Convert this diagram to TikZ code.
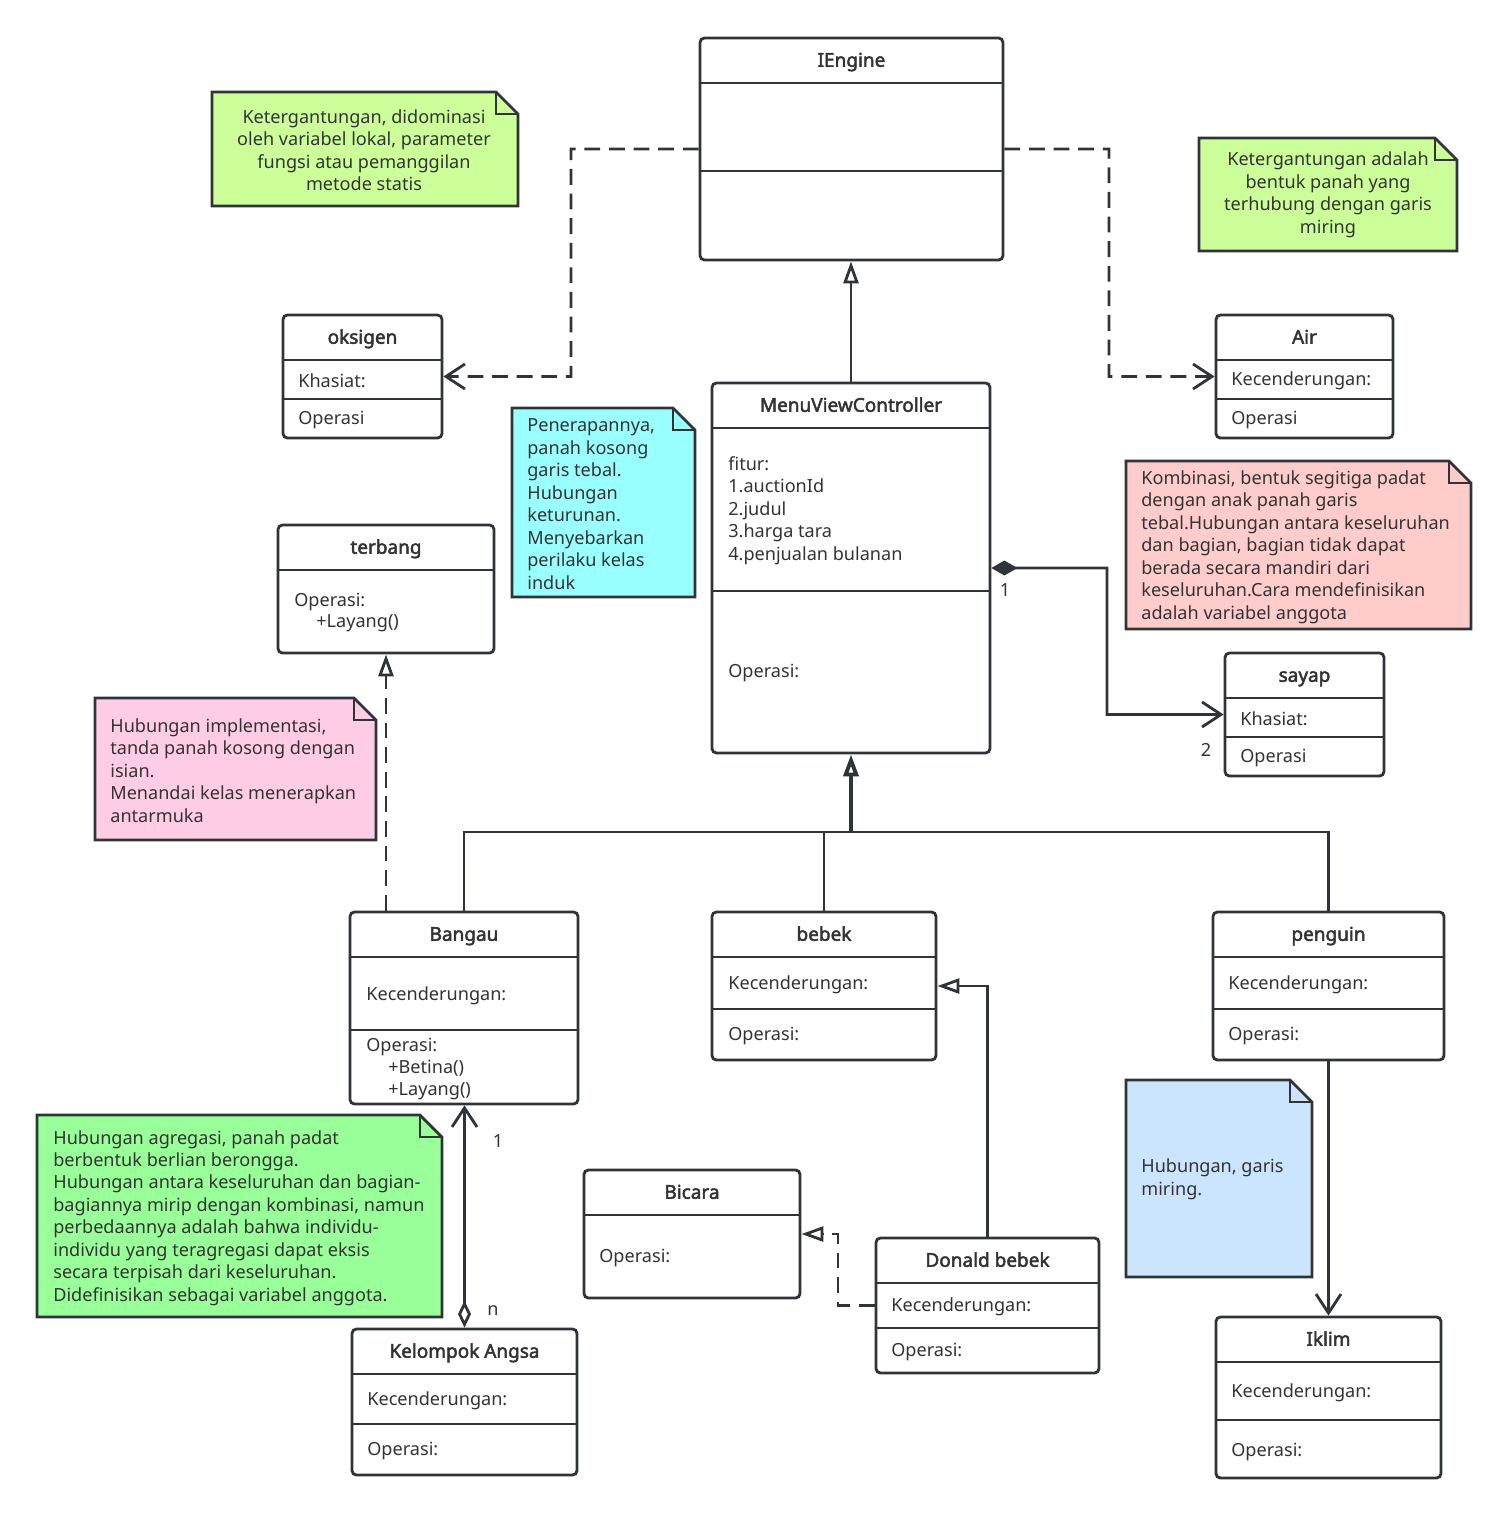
\documentclass[tikz,border=0pt]{standalone}
\usepackage{fontspec}
\setmainfont{Noto Sans}[AutoFakeBold=2.4]
\usepackage{tikz}
\usetikzlibrary{arrows.meta,fit}
\definecolor{UMLine}{HTML}{303438}
\definecolor{UMText}{HTML}{333333}
\definecolor{UMLime}{HTML}{CCFF99}
\definecolor{UMCyan}{HTML}{99FFFF}
\definecolor{UMRose}{HTML}{FFCCCC}
\definecolor{UMPink}{HTML}{FFCCE6}
\definecolor{UMGreen}{HTML}{99FF99}
\definecolor{UMSky}{HTML}{CCE5FF}
\tikzset{
  classbox/.style={draw=UMLine,line width=1.6pt,rounded corners=2.5pt,fill=white,inner sep=0pt},
  sepline/.style={draw=UMLine,line width=1.6pt},
  ctitle/.style={anchor=base,font=\fontsize{10.8}{12.8}\selectfont\bfseries,text=UMText,inner sep=0pt,yshift=-0.135cm},
  cfield/.style={anchor=west,align=left,font=\fontsize{10.3}{12.8}\selectfont,text=UMText,inner sep=0pt,yshift=-0.03cm},
  notebox/.style={draw=UMLine,line width=1.6pt,line join=miter},
  conn/.style={draw=UMLine,line width=1.6pt},
  dashconn/.style={conn,dash pattern=on 9pt off 5pt},
  openv/.style={-{Straight Barb[length=0.38cm,width=0.5cm]}},
  inherit/.style={-{Triangle[length=0.44cm,width=0.3cm,fill=white]}},
  mult/.style={font=\fontsize{10.3}{12.8}\selectfont,text=UMText,inner sep=0pt,yshift=-0.03cm}
}
\begin{document}
\begin{tikzpicture}[x=0.02cm,y=-0.02cm]
\path[use as bounding box] (0,0) rectangle (1507,1516);
\node[classbox,fit={(700,38) (1003,260)}] (iengine) {};
\draw[sepline] (iengine.west |- 0,83) -- (iengine.east |- 0,83);
\draw[sepline] (iengine.west |- 0,171) -- (iengine.east |- 0,171);
\node[ctitle] (iengine-t) at (851.5,60) {IEngine};
\node[classbox,fit={(283,315) (442,438)}] (oksigen) {};
\draw[sepline] (oksigen.west |- 0,360) -- (oksigen.east |- 0,360);
\draw[sepline] (oksigen.west |- 0,399) -- (oksigen.east |- 0,399);
\node[ctitle] (oksigen-t) at (362.5,337) {oksigen};
\node[cfield] (oksigen-a) at (298,379) {Khasiat:};
\node[cfield] (oksigen-o) at (298,418) {Operasi};
\node[classbox,fit={(1216,315) (1393,438)}] (air) {};
\draw[sepline] (air.west |- 0,360) -- (air.east |- 0,360);
\draw[sepline] (air.west |- 0,399) -- (air.east |- 0,399);
\node[ctitle] (air-t) at (1304.5,337) {Air};
\node[cfield] (air-a) at (1231,379) {Kecenderungan:};
\node[cfield] (air-o) at (1231,418) {Operasi};
\node[classbox,fit={(712,383) (990,753)}] (mvc) {};
\draw[sepline] (mvc.west |- 0,428) -- (mvc.east |- 0,428);
\draw[sepline] (mvc.west |- 0,591) -- (mvc.east |- 0,591);
\node[ctitle] (mvc-t) at (851,405) {MenuViewController};
\node[cfield] (mvc-a) at (728,509) {fitur:\\1.auctionId\\2.judul\\3.harga tara\\4.penjualan bulanan};
\node[cfield] (mvc-o) at (728,671) {Operasi:};
\node[classbox,fit={(278,525) (494,653)}] (terbang) {};
\draw[sepline] (terbang.west |- 0,570) -- (terbang.east |- 0,570);
\node[ctitle] (terbang-t) at (386,547) {terbang};
\node[cfield] (terbang-o) at (294,600) {Operasi:};
\node[cfield] (terbang-m) at (316,622) {+Layang()};
\node[classbox,fit={(1225,653) (1384,776)}] (sayap) {};
\draw[sepline] (sayap.west |- 0,698) -- (sayap.east |- 0,698);
\draw[sepline] (sayap.west |- 0,737) -- (sayap.east |- 0,737);
\node[ctitle] (sayap-t) at (1304.5,675) {sayap};
\node[cfield] (sayap-a) at (1240,717) {Khasiat:};
\node[cfield] (sayap-o) at (1240,756) {Operasi};
\node[classbox,fit={(350,912) (578,1104)}] (bangau) {};
\draw[sepline] (bangau.west |- 0,957) -- (bangau.east |- 0,957);
\draw[sepline] (bangau.west |- 0,1030) -- (bangau.east |- 0,1030);
\node[ctitle] (bangau-t) at (464,934) {Bangau};
\node[cfield] (bangau-a) at (366,994) {Kecenderungan:};
\node[cfield] (bangau-o) at (366,1045) {Operasi:};
\node[cfield] (bangau-m1) at (388,1067) {+Betina()};
\node[cfield] (bangau-m2) at (388,1090) {+Layang()};
\node[classbox,fit={(712,912) (936,1060)}] (bebek) {};
\draw[sepline] (bebek.west |- 0,957) -- (bebek.east |- 0,957);
\draw[sepline] (bebek.west |- 0,1009) -- (bebek.east |- 0,1009);
\node[ctitle] (bebek-t) at (824,934) {bebek};
\node[cfield] (bebek-a) at (728,983) {Kecenderungan:};
\node[cfield] (bebek-o) at (728,1034) {Operasi:};
\node[classbox,fit={(1213,912) (1444,1060)}] (penguin) {};
\draw[sepline] (penguin.west |- 0,957) -- (penguin.east |- 0,957);
\draw[sepline] (penguin.west |- 0,1009) -- (penguin.east |- 0,1009);
\node[ctitle] (penguin-t) at (1328.5,934) {penguin};
\node[cfield] (penguin-a) at (1228,983) {Kecenderungan:};
\node[cfield] (penguin-o) at (1228,1034) {Operasi:};
\node[classbox,fit={(584,1170) (800,1298)}] (bicara) {};
\draw[sepline] (bicara.west |- 0,1215) -- (bicara.east |- 0,1215);
\node[ctitle] (bicara-t) at (692,1192) {Bicara};
\node[cfield] (bicara-o) at (599,1256) {Operasi:};
\node[classbox,fit={(876,1238) (1099,1373)}] (donald) {};
\draw[sepline] (donald.west |- 0,1283) -- (donald.east |- 0,1283);
\draw[sepline] (donald.west |- 0,1328) -- (donald.east |- 0,1328);
\node[ctitle] (donald-t) at (987.5,1260) {Donald bebek};
\node[cfield] (donald-a) at (891,1305) {Kecenderungan:};
\node[cfield] (donald-o) at (891,1350) {Operasi:};
\node[classbox,fit={(352,1329) (577,1475)}] (angsa) {};
\draw[sepline] (angsa.west |- 0,1374) -- (angsa.east |- 0,1374);
\draw[sepline] (angsa.west |- 0,1424) -- (angsa.east |- 0,1424);
\node[ctitle] (angsa-t) at (464.5,1351) {Kelompok Angsa};
\node[cfield] (angsa-a) at (367,1399) {Kecenderungan:};
\node[cfield] (angsa-o) at (367,1449) {Operasi:};
\node[classbox,fit={(1216,1317) (1441,1478)}] (iklim) {};
\draw[sepline] (iklim.west |- 0,1362) -- (iklim.east |- 0,1362);
\draw[sepline] (iklim.west |- 0,1420) -- (iklim.east |- 0,1420);
\node[ctitle] (iklim-t) at (1328.5,1339) {Iklim};
\node[cfield] (iklim-a) at (1231,1391) {Kecenderungan:};
\node[cfield] (iklim-o) at (1231,1450) {Operasi:};
\draw[notebox,fill=UMLime] (212,92) -- (496,92) -- (518,114) -- (518,206) -- (212,206) -- cycle;
\draw[notebox] (496,92) -- (496,114) -- (518,114);
\node[cfield,anchor=center,align=center] (note-dep1) at (364,148.5) {Ketergantungan, didominasi\\oleh variabel lokal, parameter\\fungsi atau pemanggilan\\metode statis};
\draw[notebox,fill=UMLime] (1199,138) -- (1435,138) -- (1457,160) -- (1457,251) -- (1199,251) -- cycle;
\draw[notebox] (1435,138) -- (1435,160) -- (1457,160);
\node[cfield,anchor=center,align=center] (note-dep2) at (1328,193.5) {Ketergantungan adalah\\bentuk panah yang\\terhubung dengan garis\\miring};
\draw[notebox,fill=UMCyan] (512,408) -- (673,408) -- (695,430) -- (695,597) -- (512,597) -- cycle;
\draw[notebox] (673,408) -- (673,430) -- (695,430);
\node[cfield] (note-gen) at (527,502.5) {Penerapannya,\\panah kosong\\garis tebal.\\Hubungan\\keturunan.\\Menyebarkan\\perilaku kelas\\induk};
\draw[notebox,fill=UMRose] (1126,461) -- (1449,461) -- (1471,483) -- (1471,629) -- (1126,629) -- cycle;
\draw[notebox] (1449,461) -- (1449,483) -- (1471,483);
\node[cfield] (note-comp) at (1141,545.5) {Kombinasi, bentuk segitiga padat\\dengan anak panah garis\\tebal.Hubungan antara keseluruhan\\dan bagian, bagian tidak dapat\\berada secara mandiri dari\\keseluruhan.Cara mendefinisikan\\adalah variabel anggota};
\draw[notebox,fill=UMPink] (95,698) -- (354,698) -- (376,720) -- (376,840) -- (95,840) -- cycle;
\draw[notebox] (354,698) -- (354,720) -- (376,720);
\node[cfield] (note-real) at (110,769) {Hubungan implementasi,\\tanda panah kosong dengan\\isian.\\Menandai kelas menerapkan\\antarmuka};
\draw[notebox,fill=UMGreen] (37,1115) -- (420,1115) -- (442,1137) -- (442,1317) -- (37,1317) -- cycle;
\draw[notebox] (420,1115) -- (420,1137) -- (442,1137);
\node[cfield] (note-aggr) at (53,1216.5) {Hubungan agregasi, panah padat\\berbentuk berlian berongga.\\Hubungan antara keseluruhan dan bagian-\\bagiannya mirip dengan kombinasi, namun\\perbedaannya adalah bahwa individu-\\individu yang teragregasi dapat eksis\\secara terpisah dari keseluruhan.\\Didefinisikan sebagai variabel anggota.};
\draw[notebox,fill=UMSky] (1126,1080) -- (1290,1080) -- (1312,1102) -- (1312,1277) -- (1126,1277) -- cycle;
\draw[notebox] (1290,1080) -- (1290,1102) -- (1312,1102);
\node[cfield] (note-assoc) at (1141,1178) {Hubungan, garis\\miring.};
\coordinate (depl) at (571,376.5);
\coordinate (depr) at (1109,376.5);
\draw[dashconn,openv] (iengine.west) -| (depl) -- (oksigen.east);
\draw[dashconn,openv] (iengine.east) -| (depr) -- (air.west);
\draw[conn,inherit] (mvc.north) -- (mvc.north |- iengine.south);
\coordinate (compm) at (1107,714.5);
\draw[conn,{Diamond[length=0.52cm,width=0.3cm]}-{Straight Barb[length=0.38cm,width=0.5cm]}] (mvc.east) -| (compm) -- (sayap.west);
\node[mult] (comp-1) at (1005,589) {1};
\node[mult] (comp-2) at (1206,748) {2};
\coordinate (hub) at (851,832);
\draw[conn] (bangau.north) -- (bangau.north |- hub) -- (penguin.north |- hub) -- (penguin.north);
\draw[conn] (bebek.north) -- (bebek.north |- hub);
\draw[conn,line width=2.2pt,inherit] (hub) -- (mvc.south);
\draw[dashconn,inherit] (terbang.south |- bangau.north) -- (terbang.south);
\draw[conn,{Diamond[open,length=0.54cm,width=0.26cm,fill=white]}-{Straight Barb[length=0.38cm,width=0.5cm]}] (angsa.north) -- (angsa.north |- bangau.south);
\node[mult] (aggr-1) at (498,1140) {1};
\node[mult] (aggr-n) at (493,1309) {n};
\draw[conn,inherit] (donald.north) |- (bebek.east);
\coordinate (realb) at (838,1234);
\draw[dashconn,inherit] (donald.west) -| (realb) -- (bicara.east);
\draw[conn,openv] (penguin.south) -- (iklim.north);
\end{tikzpicture}
\end{document}
